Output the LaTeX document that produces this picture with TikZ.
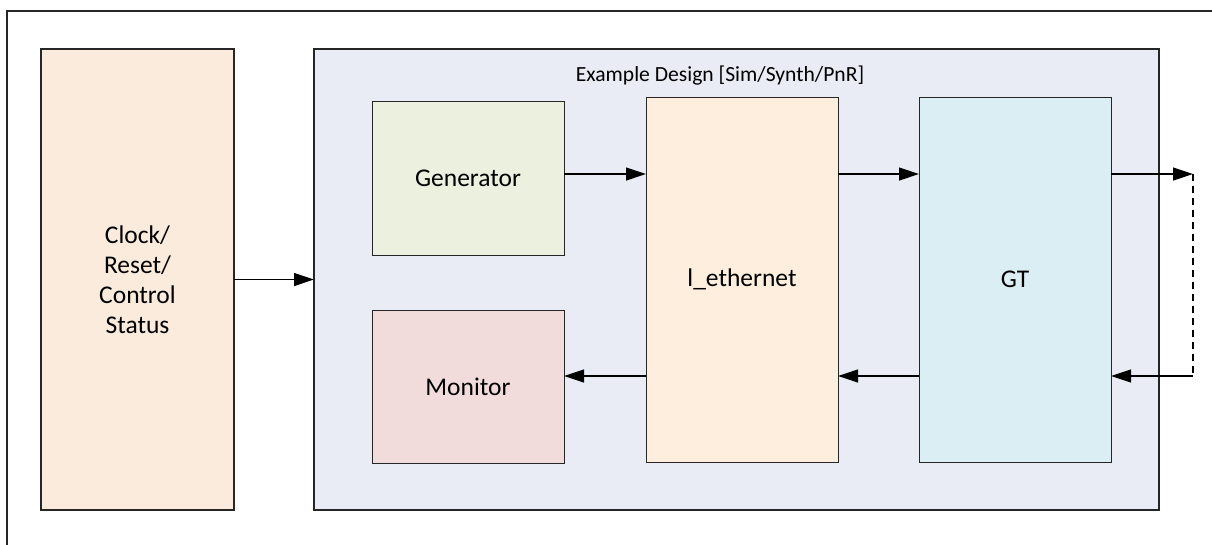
\documentclass[tikz,border=0pt]{standalone}
\usepackage{fontspec}
\setmainfont{Carlito}
\usetikzlibrary{arrows.meta}
\definecolor{clkfill}{HTML}{FBEBDD}
\definecolor{edfill}{HTML}{E9ECF5}
\definecolor{genfill}{HTML}{EBF0DF}
\definecolor{monfill}{HTML}{F2DCDB}
\definecolor{ethfill}{HTML}{FDEEDE}
\definecolor{gtfill}{HTML}{DBEEF3}
\definecolor{edge}{HTML}{262626}
\tikzset{
  blk/.style={draw=edge, line width=1.3pt, inner sep=0pt, outer sep=0pt, align=center, font=\fontsize{25.5}{30}\selectfont},
  conn/.style={-{Triangle[length=20pt,width=13pt]}, line width=1.2pt, draw=black},
}
\begin{document}
\begin{tikzpicture}[x=1pt,y=-1pt]
\useasboundingbox (0,0) rectangle (1212,544);
% outer frame (top and left visible)
\draw[edge, line width=1.3pt] (1214,11) -- (7,11) -- (7,546);
% clock box
\node[blk, fill=clkfill, minimum width=193pt, minimum height=461pt] (clk) at (137.5,279.5) {Clock/\\Reset/\\Control\\Status};
% example design
\node[blk, fill=edfill, minimum width=845pt, minimum height=461pt] (ed) at (736.5,279.5) {};
\node[font=\fontsize{21.6}{26}\selectfont, anchor=center, inner sep=0pt] (edt) at (720,76) {Example Design [Sim/Synth/PnR]};
\node[blk, line width=1pt, fill=genfill, minimum width=192pt, minimum height=154pt] (gen) at (468,178) {Generator};
\node[blk, line width=1pt, fill=monfill, minimum width=192pt, minimum height=153pt] (mon) at (468,386.5) {Monitor};
\node[blk, line width=1pt, fill=ethfill, minimum width=192pt, minimum height=365pt] (eth) at (742,279.5) {l\_ethernet};
\node[blk, line width=1pt, fill=gtfill, minimum width=192pt, minimum height=365pt] (gt) at (1015,279.5) {GT};
% connectors
\draw[conn] (clk.east) -- (ed.west);
\draw[conn] (gen.east |- 0,174) -- (eth.west |- 0,174);
\draw[conn] (eth.east |- 0,174) -- (gt.west |- 0,174);
\coordinate (lbt) at (1193,174);
\coordinate (lbb) at (1193,376);
\draw[conn] (gt.east |- lbt) -- (lbt);
\draw[line width=1.2pt, dash pattern=on 7pt off 5pt] (lbt) -- (lbb);
\draw[conn] (lbb) -- (gt.east |- lbb);
\draw[conn] (gt.west |- 0,376) -- (eth.east |- 0,376);
\draw[conn] (eth.west |- 0,376) -- (mon.east |- 0,376);
\end{tikzpicture}
\end{document}
